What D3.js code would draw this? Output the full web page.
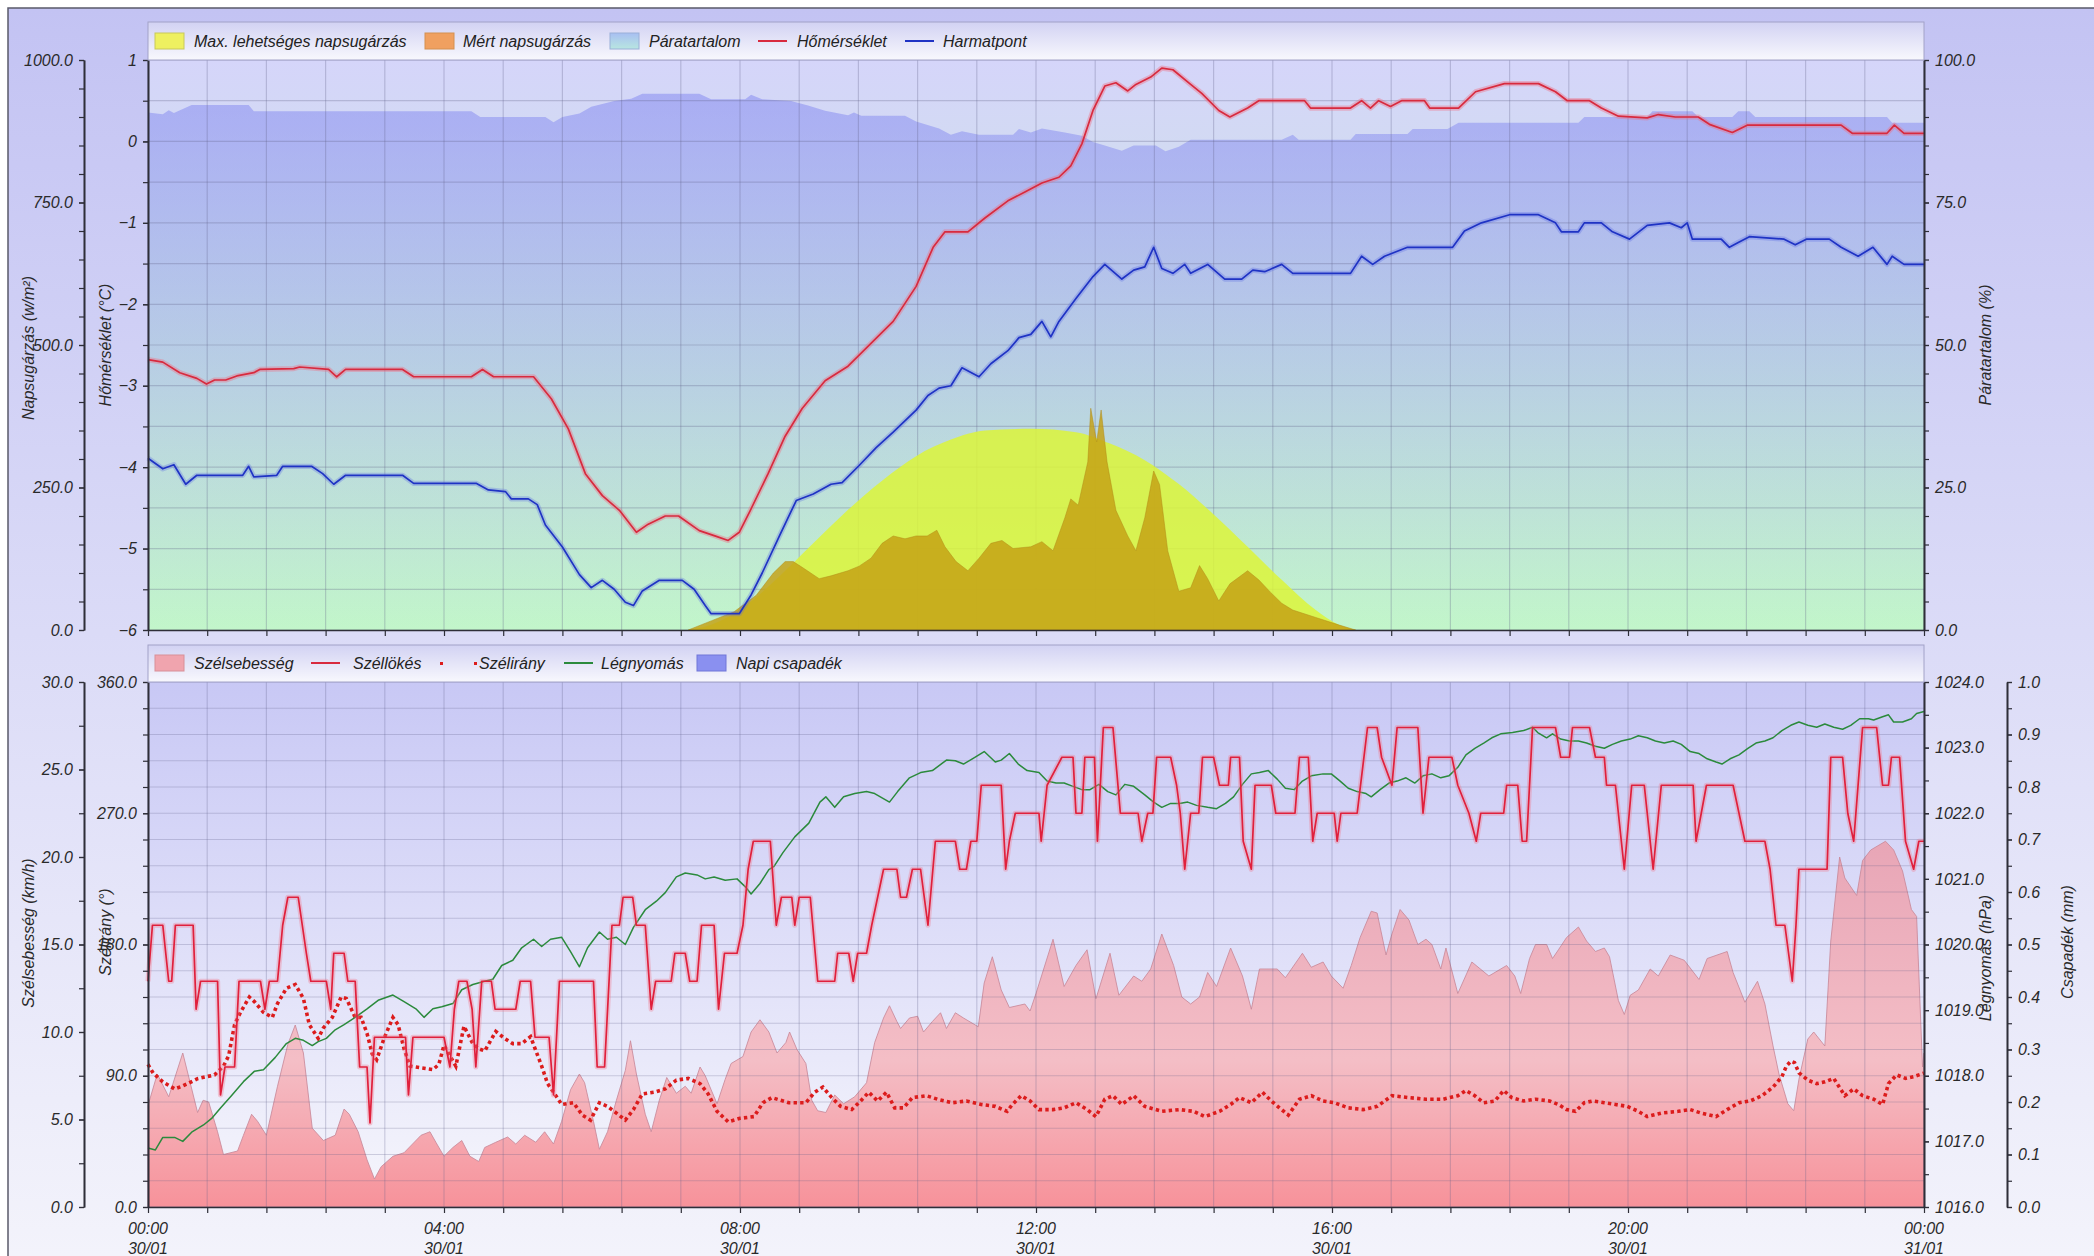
<!DOCTYPE html>
<html><head><meta charset="utf-8">
<script src="https://cdn.jsdelivr.net/npm/d3@7"></script>
<style>
html,body{margin:0;padding:0;background:#fff;overflow:hidden;}
svg{display:block;}
</style></head><body>
<svg id="c" width="2094" height="1256"></svg>
<script>
// ---------------- DATA (hour of day, value) ----------------
const xLabelHours = [0, 4, 8, 12, 16, 20, 24];
const xLabelTexts = [["00:00","30/01"],["04:00","30/01"],["08:00","30/01"],["12:00","30/01"],["16:00","30/01"],["20:00","30/01"],["00:00","31/01"]];

const topLegend = ["Max. lehetséges napsugárzás","Mért napsugárzás","Páratartalom","Hőmérséklet","Harmatpont"];
const bottomLegend = ["Szélsebesség","Széllökés","Szélirány","Légnyomás","Napi csapadék"];

// Hőmérséklet (°C)
const tempData = [[0,-2.68],[0.2,-2.71],[0.43,-2.84],[0.66,-2.91],[0.79,-2.98],[0.9,-2.93],[1.05,-2.93],[1.2,-2.88],[1.43,-2.84],[1.51,-2.80],[1.97,-2.79],[2.05,-2.77],[2.44,-2.80],[2.55,-2.89],[2.67,-2.80],[3.44,-2.80],[3.59,-2.89],[4.37,-2.89],[4.52,-2.80],[4.67,-2.89],[5.21,-2.89],[5.45,-3.16],[5.68,-3.53],[5.91,-4.08],[6.14,-4.35],[6.37,-4.53],[6.6,-4.80],[6.76,-4.70],[6.99,-4.60],[7.17,-4.60],[7.45,-4.78],[7.68,-4.85],[7.84,-4.90],[7.99,-4.80],[8.14,-4.53],[8.38,-4.08],[8.61,-3.62],[8.84,-3.28],[9.15,-2.94],[9.46,-2.76],[9.77,-2.48],[10.07,-2.21],[10.38,-1.78],[10.61,-1.30],[10.77,-1.11],[11.08,-1.11],[11.31,-0.94],[11.62,-0.73],[11.85,-0.62],[12.08,-0.51],[12.31,-0.44],[12.47,-0.30],[12.62,-0.03],[12.77,0.38],[12.93,0.68],[13.08,0.72],[13.24,0.62],[13.35,0.70],[13.55,0.79],[13.7,0.90],[13.85,0.88],[14.09,0.70],[14.24,0.59],[14.47,0.38],[14.62,0.30],[14.86,0.41],[15.01,0.50],[15.63,0.50],[15.71,0.41],[16.25,0.41],[16.4,0.50],[16.52,0.41],[16.63,0.50],[16.79,0.43],[16.94,0.50],[17.25,0.50],[17.32,0.41],[17.71,0.41],[17.94,0.61],[18.33,0.71],[18.79,0.71],[19.02,0.61],[19.18,0.50],[19.48,0.50],[19.64,0.41],[19.87,0.31],[20.26,0.29],[20.41,0.33],[20.64,0.30],[20.95,0.30],[21.1,0.21],[21.41,0.11],[21.61,0.20],[22.88,0.20],[23.03,0.10],[23.5,0.10],[23.6,0.20],[23.73,0.10],[24,0.10]];

// Harmatpont (°C)
const dewData = [[0,-3.89],[0.2,-4.02],[0.35,-3.97],[0.51,-4.21],[0.66,-4.10],[1.28,-4.10],[1.36,-3.99],[1.43,-4.12],[1.74,-4.10],[1.82,-3.99],[2.21,-3.99],[2.36,-4.08],[2.51,-4.21],[2.67,-4.10],[3.44,-4.10],[3.59,-4.20],[4.44,-4.20],[4.6,-4.28],[4.83,-4.30],[4.91,-4.39],[5.14,-4.39],[5.26,-4.46],[5.37,-4.71],[5.6,-4.98],[5.83,-5.32],[5.99,-5.48],[6.14,-5.39],[6.3,-5.50],[6.45,-5.66],[6.56,-5.70],[6.68,-5.52],[6.91,-5.39],[7.22,-5.39],[7.38,-5.50],[7.53,-5.70],[7.61,-5.80],[7.99,-5.80],[8.15,-5.57],[8.3,-5.30],[8.53,-4.85],[8.76,-4.41],[8.99,-4.33],[9.23,-4.21],[9.38,-4.19],[9.61,-3.98],[9.84,-3.76],[10.07,-3.57],[10.38,-3.30],[10.54,-3.12],[10.69,-3.03],[10.85,-3.0],[11.0,-2.78],[11.23,-2.89],[11.39,-2.73],[11.62,-2.57],[11.77,-2.41],[11.93,-2.37],[12.08,-2.21],[12.2,-2.40],[12.31,-2.21],[12.54,-1.93],[12.77,-1.66],[12.93,-1.51],[13.16,-1.69],[13.32,-1.58],[13.47,-1.54],[13.59,-1.30],[13.7,-1.56],[13.85,-1.62],[14.01,-1.51],[14.09,-1.62],[14.32,-1.51],[14.55,-1.69],[14.78,-1.69],[14.93,-1.58],[15.09,-1.60],[15.32,-1.51],[15.47,-1.62],[16.25,-1.62],[16.4,-1.41],[16.55,-1.51],[16.71,-1.41],[17.02,-1.30],[17.63,-1.30],[17.79,-1.10],[18.02,-1.00],[18.4,-0.90],[18.79,-0.90],[19.02,-1.00],[19.1,-1.11],[19.33,-1.11],[19.41,-1.00],[19.64,-1.00],[19.79,-1.11],[20.02,-1.20],[20.26,-1.03],[20.56,-1.00],[20.72,-1.06],[20.8,-1.00],[20.87,-1.20],[21.26,-1.20],[21.37,-1.30],[21.49,-1.24],[21.64,-1.17],[22.11,-1.20],[22.26,-1.27],[22.41,-1.20],[22.72,-1.20],[22.88,-1.30],[23.11,-1.41],[23.31,-1.30],[23.5,-1.51],[23.57,-1.41],[23.73,-1.51],[24,-1.51]];

// Páratartalom (%)
const humData = [[0,90.8],[0.2,90.5],[0.28,91.2],[0.35,90.7],[0.59,92.1],[1.36,92.1],[1.43,91.0],[4.37,91.0],[4.49,90.0],[5.37,90.0],[5.48,89.1],[5.6,90.0],[5.83,90.6],[5.99,91.8],[6.3,92.8],[6.53,93.2],[6.68,94.1],[7.45,94.1],[7.61,93.1],[8.07,93.1],[8.15,93.9],[8.3,93.1],[8.69,92.8],[8.92,92.0],[9.15,91.1],[9.46,90.3],[9.54,90.8],[9.64,90.2],[10.23,90.2],[10.38,89.2],[10.69,88.0],[10.85,86.9],[11.0,87.5],[11.23,86.9],[11.69,86.9],[11.77,87.9],[11.93,87.3],[12.08,88.0],[12.39,87.3],[12.62,86.7],[12.77,85.6],[12.93,85.0],[13.16,84.1],[13.32,85.0],[13.62,85.0],[13.75,84.0],[13.93,84.8],[14.09,86.0],[15.32,86.0],[15.47,86.9],[15.55,86.0],[16.25,86.0],[16.32,87.0],[17.02,87.0],[17.09,87.9],[17.56,87.9],[17.71,89.0],[19.33,89.0],[19.41,90.0],[20.26,90.0],[20.33,91.0],[20.87,91.0],[20.95,90.0],[21.41,90.0],[21.49,91.0],[21.64,91.0],[21.72,90.0],[23.5,90.0],[23.57,89.0],[24,89.0]];

// Max. lehetséges napsugárzás (W/m²)
const maxRadData = [[7.3,0],[7.61,9],[8.07,42],[8.53,94],[8.99,152],[9.46,211],[9.92,262],[10.38,305],[10.85,334],[11.31,350],[11.93,353],[12.54,347],[13.0,327],[13.47,298],[13.93,256],[14.39,204],[14.86,146],[15.32,88],[15.78,35],[16.09,9],[16.32,0]];

// Mért napsugárzás (W/m²)
const radData = [[7.3,0],[7.61,16],[7.92,32],[8.22,61],[8.45,100],[8.61,120],[8.72,120],[8.84,110],[9.07,90],[9.23,95],[9.46,104],[9.61,112],[9.77,126],[9.92,152],[10.07,165],[10.23,160],[10.38,165],[10.53,165],[10.66,175],[10.77,146],[10.92,120],[11.08,104],[11.23,126],[11.39,152],[11.54,157],[11.69,143],[11.93,146],[12.08,155],[12.23,139],[12.39,197],[12.47,230],[12.57,219],[12.70,295],[12.74,389],[12.82,330],[12.88,386],[12.96,295],[13.08,210],[13.24,165],[13.35,139],[13.47,197],[13.59,279],[13.67,255],[13.78,139],[13.93,68],[14.09,74],[14.21,113],[14.32,90],[14.47,51],[14.62,81],[14.86,104],[15.01,88],[15.17,66],[15.32,47],[15.47,35],[15.78,22],[16.09,9],[16.32,0]];

// Szélsebesség (km/h)
const windData = [[0,5.8],[0.125,7.6],[0.28,6.3],[0.47,8.8],[0.67,5.4],[0.745,6.1],[0.82,6.0],[0.94,4.3],[1.02,3.0],[1.21,3.2],[1.29,4.1],[1.40,5.3],[1.48,4.9],[1.60,4.1],[1.75,6.9],[1.89,9.3],[1.99,10.4],[2.10,8.8],[2.22,4.5],[2.37,3.8],[2.53,4.1],[2.65,5.6],[2.72,5.3],[2.84,4.3],[2.96,2.7],[3.06,1.6],[3.15,2.3],[3.31,2.9],[3.46,3.1],[3.69,4.1],[3.81,4.3],[3.89,3.7],[4.00,2.9],[4.12,3.4],[4.24,3.8],[4.35,2.9],[4.47,2.6],[4.55,3.4],[4.70,3.7],[4.86,4.0],[4.97,3.6],[5.09,4.1],[5.24,3.7],[5.36,4.3],[5.48,3.6],[5.59,4.9],[5.71,6.7],[5.83,7.6],[5.90,7.1],[6.02,4.9],[6.10,3.3],[6.21,4.3],[6.33,6.1],[6.45,7.8],[6.52,9.5],[6.60,7.6],[6.72,5.3],[6.80,4.3],[6.91,6.1],[7.01,7.4],[7.14,6.5],[7.26,6.9],[7.34,6.5],[7.46,8.0],[7.53,7.5],[7.61,6.7],[7.69,5.9],[7.80,7.3],[7.88,8.2],[8.04,8.6],[8.15,10.0],[8.27,10.7],[8.39,10.0],[8.50,8.8],[8.62,9.4],[8.67,10.0],[8.77,9.0],[8.89,8.2],[8.97,6.1],[9.05,5.5],[9.16,5.4],[9.28,6.4],[9.40,5.9],[9.55,6.3],[9.71,7.1],[9.82,9.4],[9.94,10.8],[10.02,11.5],[10.12,10.6],[10.17,10.2],[10.29,10.8],[10.40,10.9],[10.48,10.0],[10.60,10.6],[10.71,11.1],[10.79,10.2],[10.91,11.1],[11.02,10.8],[11.22,10.3],[11.30,12.8],[11.41,14.3],[11.53,12.4],[11.64,11.4],[11.85,11.6],[11.92,11.2],[12.00,12.2],[12.23,15.3],[12.38,12.6],[12.54,13.8],[12.69,14.7],[12.81,11.9],[13.00,14.5],[13.12,12.1],[13.32,13.2],[13.43,12.9],[13.55,13.6],[13.70,15.6],[13.86,13.8],[13.97,12.0],[14.09,11.6],[14.21,12.0],[14.32,13.4],[14.44,12.6],[14.63,14.8],[14.79,13.2],[14.91,11.3],[15.02,13.6],[15.26,13.6],[15.37,13.1],[15.60,14.5],[15.72,13.7],[15.88,14.0],[15.99,13.2],[16.15,12.5],[16.26,13.8],[16.38,15.4],[16.53,16.9],[16.61,16.8],[16.73,14.4],[16.81,15.6],[16.92,17.0],[17.04,16.4],[17.16,15.0],[17.27,15.3],[17.35,15.0],[17.47,13.6],[17.54,14.8],[17.70,12.2],[17.89,14.0],[18.12,13.2],[18.36,13.8],[18.47,13.2],[18.55,12.2],[18.67,14.2],[18.75,15.0],[18.90,15.0],[18.98,14.2],[19.06,14.7],[19.17,15.4],[19.33,16.0],[19.44,15.2],[19.56,14.6],[19.68,14.8],[19.75,14.3],[19.87,11.8],[19.95,11.0],[20.03,12.1],[20.14,12.4],[20.30,13.6],[20.41,13.2],[20.57,14.4],[20.76,14.1],[20.96,13.0],[21.07,14.2],[21.34,14.6],[21.42,13.4],[21.58,11.7],[21.75,12.9],[21.85,11.6],[21.96,9.2],[22.04,7.6],[22.16,5.9],[22.24,5.5],[22.31,7.3],[22.43,9.6],[22.51,10.0],[22.66,9.2],[22.74,15.2],[22.86,20.0],[22.93,18.8],[23.09,17.8],[23.17,19.8],[23.28,20.4],[23.48,20.9],[23.59,20.4],[23.71,19.2],[23.83,17.0],[23.90,16.6],[23.98,8.0],[24,8.8]];

// Széllökés (km/h)
const gustData = [[0,12.9],[0.06,16.1],[0.2,16.1],[0.28,12.9],[0.32,12.9],[0.37,16.1],[0.61,16.1],[0.65,11.3],[0.71,12.9],[0.94,12.9],[0.98,6.4],[1.04,8.0],[1.17,8.0],[1.23,12.9],[1.52,12.9],[1.58,11.3],[1.64,12.9],[1.75,12.9],[1.82,16.1],[1.89,17.7],[2.03,17.7],[2.14,14.5],[2.2,12.9],[2.41,12.9],[2.47,11.3],[2.51,14.5],[2.65,14.5],[2.7,12.9],[2.8,12.9],[2.86,8.0],[2.96,8.0],[3.0,4.8],[3.06,9.7],[3.48,9.7],[3.52,6.4],[3.58,9.7],[4.0,9.7],[4.08,8.0],[4.14,11.3],[4.2,12.9],[4.31,12.9],[4.38,11.3],[4.43,8.0],[4.51,12.9],[4.64,12.9],[4.69,11.3],[4.97,11.3],[5.03,12.9],[5.17,12.9],[5.23,9.7],[5.42,9.7],[5.48,6.4],[5.56,12.9],[6.02,12.9],[6.07,8.0],[6.17,8.0],[6.27,16.1],[6.37,16.1],[6.42,17.7],[6.55,17.7],[6.6,16.1],[6.72,16.1],[6.8,11.3],[6.86,12.9],[7.07,12.9],[7.12,14.5],[7.26,14.5],[7.32,12.9],[7.42,12.9],[7.48,16.1],[7.65,16.1],[7.71,11.3],[7.79,14.5],[7.96,14.5],[8.04,16.1],[8.11,19.3],[8.18,20.9],[8.41,20.9],[8.49,16.1],[8.56,17.7],[8.7,17.7],[8.74,16.1],[8.8,17.7],[8.95,17.7],[9.05,12.9],[9.28,12.9],[9.32,14.5],[9.47,14.5],[9.53,12.9],[9.59,14.5],[9.71,14.5],[9.78,16.1],[9.94,19.3],[10.12,19.3],[10.17,17.7],[10.25,17.7],[10.33,19.3],[10.44,19.3],[10.54,16.1],[10.64,20.9],[10.91,20.9],[10.97,19.3],[11.06,19.3],[11.12,20.9],[11.2,20.9],[11.26,24.1],[11.53,24.1],[11.59,19.3],[11.64,20.9],[11.72,22.5],[12.04,22.5],[12.07,20.9],[12.15,24.1],[12.35,25.7],[12.5,25.7],[12.54,22.5],[12.62,22.5],[12.66,25.7],[12.79,25.7],[12.83,20.9],[12.91,27.4],[13.04,27.4],[13.14,22.5],[13.38,22.5],[13.43,20.9],[13.51,22.5],[13.58,22.5],[13.63,25.7],[13.82,25.7],[13.9,24.1],[13.95,22.5],[14.01,19.3],[14.09,22.5],[14.2,22.5],[14.25,25.7],[14.4,25.7],[14.48,24.1],[14.6,24.1],[14.63,25.7],[14.75,25.7],[14.8,20.9],[14.91,19.3],[14.96,24.1],[15.18,24.1],[15.24,22.5],[15.5,22.5],[15.56,25.7],[15.68,25.7],[15.74,20.9],[15.8,22.5],[16.03,22.5],[16.07,20.9],[16.12,22.5],[16.34,22.5],[16.48,27.4],[16.61,27.4],[16.67,25.7],[16.81,24.1],[16.88,27.4],[17.16,27.4],[17.23,22.5],[17.27,24.1],[17.31,25.7],[17.62,25.7],[17.7,24.1],[17.85,22.5],[17.95,20.9],[18.01,22.5],[18.32,22.5],[18.36,24.1],[18.51,24.1],[18.57,20.9],[18.63,20.9],[18.71,27.4],[19.02,27.4],[19.09,25.7],[19.21,25.7],[19.25,27.4],[19.48,27.4],[19.56,25.7],[19.68,25.7],[19.71,24.1],[19.83,24.1],[19.95,19.3],[20.05,24.1],[20.22,24.1],[20.26,22.5],[20.34,19.3],[20.45,24.1],[20.88,24.1],[20.92,20.9],[20.99,22.5],[21.06,24.1],[21.42,24.1],[21.5,22.5],[21.58,20.9],[21.85,20.9],[21.92,19.3],[22.0,16.1],[22.12,16.1],[22.22,12.9],[22.27,16.1],[22.31,19.3],[22.69,19.3],[22.74,25.7],[22.9,25.7],[22.97,22.5],[23.05,20.9],[23.17,27.4],[23.36,27.4],[23.44,24.1],[23.52,24.1],[23.56,25.7],[23.67,25.7],[23.75,20.9],[23.86,19.3],[23.93,20.9],[24,20.9]];

// Szélirány (°)
const dirData = [[0,97.8],[0.07,91.8],[0.2,85.8],[0.36,81.0],[0.47,83.0],[0.67,88.0],[0.9,90.6],[1.02,96.6],[1.09,103.7],[1.17,125.0],[1.25,133.5],[1.37,144.0],[1.44,140.7],[1.56,133.5],[1.68,130.0],[1.75,139.5],[1.87,150.0],[1.99,152.6],[2.10,143.0],[2.18,125.0],[2.30,115.6],[2.37,122.8],[2.49,130.0],[2.61,144.0],[2.68,143.0],[2.80,130.0],[2.88,130.0],[2.96,119.0],[3.03,105.0],[3.09,101.0],[3.19,115.6],[3.31,130.0],[3.38,125.0],[3.46,108.5],[3.54,96.6],[3.69,95.4],[3.85,94.2],[3.93,97.8],[4.00,110.9],[4.08,103.7],[4.16,96.6],[4.27,124.0],[4.39,112.0],[4.47,108.5],[4.55,107.0],[4.70,120.4],[4.82,115.6],[4.93,112.0],[5.05,112.0],[5.17,116.8],[5.32,96.6],[5.40,84.6],[5.48,78.7],[5.59,70.3],[5.75,71.5],[5.87,63.0],[5.98,59.6],[6.10,71.5],[6.21,69.0],[6.33,64.4],[6.45,59.6],[6.56,66.8],[6.68,77.5],[6.84,78.7],[6.99,81.0],[7.14,87.0],[7.30,88.2],[7.46,84.6],[7.57,77.5],[7.69,65.6],[7.84,58.4],[8.00,60.8],[8.19,62.0],[8.31,71.5],[8.43,75.0],[8.66,71.5],[8.89,71.5],[9.01,78.7],[9.12,82.2],[9.24,75.0],[9.36,69.0],[9.51,66.8],[9.63,72.7],[9.74,78.7],[9.86,72.7],[9.98,78.7],[10.09,68.0],[10.21,68.0],[10.33,75.0],[10.52,76.3],[10.67,73.9],[10.87,71.5],[11.06,72.7],[11.26,70.3],[11.45,69.0],[11.61,65.6],[11.68,70.3],[11.80,76.3],[11.92,72.7],[12.04,66.8],[12.23,66.8],[12.38,68.0],[12.54,71.5],[12.69,66.8],[12.81,62.0],[12.93,73.9],[13.04,76.3],[13.16,70.3],[13.32,76.3],[13.47,69.0],[13.70,65.6],[13.94,66.8],[14.13,65.6],[14.28,62.0],[14.48,65.6],[14.63,70.3],[14.75,75.0],[14.91,71.5],[15.06,78.7],[15.18,72.7],[15.29,68.0],[15.41,63.0],[15.56,73.9],[15.72,76.3],[15.88,72.7],[16.03,71.5],[16.22,68.0],[16.42,66.8],[16.61,69.0],[16.81,76.3],[17.04,75.0],[17.27,73.9],[17.50,73.9],[17.70,76.3],[17.81,79.9],[17.93,76.3],[18.05,71.5],[18.20,72.7],[18.32,79.9],[18.43,75.0],[18.59,72.7],[18.75,73.9],[18.94,72.7],[19.06,70.3],[19.17,66.8],[19.29,65.6],[19.41,71.5],[19.52,72.7],[19.68,71.5],[19.83,70.3],[19.99,69.0],[20.14,65.6],[20.26,62.0],[20.45,64.4],[20.68,65.6],[20.84,66.8],[20.99,64.4],[21.19,62.0],[21.34,66.8],[21.50,71.5],[21.65,72.7],[21.81,76.3],[21.96,82.2],[22.08,89.4],[22.14,96.6],[22.20,100.0],[22.25,99.0],[22.31,92.0],[22.43,87.0],[22.55,84.6],[22.66,85.8],[22.78,88.2],[22.93,76.3],[23.05,81.0],[23.17,76.3],[23.32,73.9],[23.44,70.3],[23.52,84.6],[23.63,90.6],[23.75,88.2],[23.86,89.4],[24,91.8]];

// Légnyomás (hPa)
const pressData = [[0,1016.9],[0.1,1016.87],[0.2,1017.06],[0.36,1017.06],[0.47,1017.0],[0.59,1017.14],[0.75,1017.25],[0.86,1017.35],[0.98,1017.51],[1.13,1017.70],[1.29,1017.91],[1.44,1018.07],[1.56,1018.09],[1.72,1018.28],[1.87,1018.49],[1.99,1018.57],[2.10,1018.54],[2.22,1018.46],[2.30,1018.52],[2.41,1018.57],[2.53,1018.70],[2.65,1018.78],[2.80,1018.89],[2.96,1019.02],[3.11,1019.15],[3.31,1019.23],[3.46,1019.13],[3.62,1019.02],[3.73,1018.89],[3.85,1019.02],[3.97,1019.05],[4.12,1019.10],[4.24,1019.31],[4.39,1019.39],[4.55,1019.44],[4.66,1019.47],[4.78,1019.68],[4.93,1019.76],[5.05,1019.95],[5.21,1020.08],[5.32,1019.97],[5.44,1020.08],[5.59,1020.11],[5.71,1019.89],[5.83,1019.66],[5.94,1019.95],[6.10,1020.19],[6.21,1020.08],[6.33,1020.11],[6.45,1020.0],[6.56,1020.26],[6.72,1020.53],[6.87,1020.66],[6.99,1020.79],[7.14,1021.03],[7.26,1021.09],[7.42,1021.06],[7.53,1021.0],[7.65,1021.03],[7.80,1020.98],[7.96,1021.0],[8.08,1020.87],[8.15,1020.77],[8.27,1020.93],[8.39,1021.14],[8.46,1021.19],[8.58,1021.40],[8.74,1021.64],[8.93,1021.85],[9.08,1022.17],[9.16,1022.25],[9.28,1022.09],[9.40,1022.25],[9.55,1022.30],[9.71,1022.33],[9.82,1022.30],[10.02,1022.17],[10.13,1022.33],[10.29,1022.54],[10.44,1022.62],[10.60,1022.65],[10.79,1022.81],[10.91,1022.80],[11.02,1022.75],[11.14,1022.83],[11.30,1022.94],[11.45,1022.78],[11.53,1022.81],[11.64,1022.91],[11.76,1022.75],[11.88,1022.65],[12.04,1022.62],[12.15,1022.49],[12.27,1022.46],[12.38,1022.46],[12.50,1022.41],[12.62,1022.36],[12.73,1022.36],[12.85,1022.44],[12.97,1022.33],[13.08,1022.28],[13.20,1022.44],[13.32,1022.41],[13.47,1022.28],[13.59,1022.17],[13.70,1022.09],[13.82,1022.15],[13.94,1022.15],[14.05,1022.17],[14.17,1022.12],[14.32,1022.09],[14.44,1022.07],[14.56,1022.15],[14.67,1022.25],[14.79,1022.44],[14.91,1022.60],[15.02,1022.62],[15.14,1022.65],[15.26,1022.52],[15.37,1022.38],[15.49,1022.36],[15.60,1022.49],[15.72,1022.57],[15.88,1022.60],[15.99,1022.60],[16.11,1022.49],[16.22,1022.38],[16.34,1022.33],[16.46,1022.30],[16.53,1022.25],[16.65,1022.36],[16.77,1022.46],[16.88,1022.49],[17.00,1022.54],[17.12,1022.46],[17.23,1022.57],[17.35,1022.60],[17.47,1022.54],[17.58,1022.57],[17.70,1022.70],[17.81,1022.89],[17.93,1022.99],[18.05,1023.07],[18.16,1023.15],[18.28,1023.21],[18.44,1023.23],[18.59,1023.26],[18.71,1023.31],[18.78,1023.23],[18.90,1023.15],[18.98,1023.21],[19.09,1023.13],[19.21,1023.10],[19.33,1023.10],[19.44,1023.07],[19.56,1023.02],[19.68,1022.99],[19.79,1023.05],[19.91,1023.10],[20.03,1023.13],[20.14,1023.18],[20.26,1023.15],[20.37,1023.10],[20.49,1023.07],[20.61,1023.10],[20.72,1023.05],[20.84,1022.94],[20.96,1022.91],[21.07,1022.83],[21.19,1022.78],[21.27,1022.75],[21.38,1022.83],[21.50,1022.89],[21.62,1022.99],[21.73,1023.07],[21.85,1023.10],[21.96,1023.15],[22.08,1023.26],[22.20,1023.34],[22.31,1023.39],[22.43,1023.34],[22.55,1023.31],[22.66,1023.36],[22.78,1023.31],[22.90,1023.28],[23.01,1023.34],[23.13,1023.44],[23.25,1023.44],[23.32,1023.42],[23.44,1023.47],[23.52,1023.50],[23.59,1023.39],[23.71,1023.39],[23.83,1023.44],[23.90,1023.52],[24,1023.55]];

// Napi csapadék (mm) – none recorded
const rainData = [];

// tick values
const radTicks = [0,250,500,750,1000];
const tempTicks = [-6,-5,-4,-3,-2,-1,0,1];
const humTicks = [0,25,50,75,100];
const speedTicks = [0,5,10,15,20,25,30];
const dirTicks = [0,90,180,270,360];
const pressTicks = [1016,1017,1018,1019,1020,1021,1022,1023,1024];
const rainTicks = [0,0.1,0.2,0.3,0.4,0.5,0.6,0.7,0.8,0.9,1.0];

// ---------------- LAYOUT ----------------
const W = 2094, H = 1256;
const PL = 148, PR = 1924;
const TT = 60, TB = 630;
const BT = 682, BB = 1207;
const FONT = '"Liberation Sans", Arial, sans-serif';

const svg = d3.select('#c');
const defs = svg.append('defs');
function lg(id, x1,y1,x2,y2, stops){
  const g = defs.append('linearGradient').attr('id',id).attr('gradientUnits','userSpaceOnUse')
    .attr('x1',x1).attr('y1',y1).attr('x2',x2).attr('y2',y2);
  stops.forEach(s=>g.append('stop').attr('offset',s[0]).attr('stop-color',s[1]).attr('stop-opacity',s[2]===undefined?1:s[2]));
}
lg('pageBg',0,8,0,H,[[0,'#c3c3f3'],[1,'#f3f3fb']]);
lg('topBg',0,TT,0,TB,[[0,'#d5d5fa'],[1,'#c2f6ca']]);
lg('humFill',0,TT,0,TB,[[0,'#7d82f0',0.52],[1,'#7d82f0',0.0]]);
lg('botBg',0,BT,0,BB,[[0,'#c8c8f5'],[1,'#f6f6fc']]);
lg('windFill',0,BT,0,BB,[[0,'#e094aa'],[0.45,'#ecaebc'],[0.72,'#f4bec6'],[1,'#f7929a']]);
lg('legBg1',0,22,0,60,[[0,'#d2d2f3'],[1,'#f8f8fd']]);
lg('legBg2',0,645,0,682,[[0,'#d2d2f3'],[1,'#f8f8fd']]);
lg('humSw',0,0,0,1,[[0,'#a8bff2'],[1,'#b8e6e0']]);
defs.select('#humSw').attr('gradientUnits','objectBoundingBox');

// page background
svg.append('rect').attr('x',0).attr('y',0).attr('width',W).attr('height',H).attr('fill','#fff');
svg.append('rect').attr('x',8).attr('y',8).attr('width',W).attr('height',H).attr('fill','url(#pageBg)')
  .attr('stroke','#5a5a6a').attr('stroke-width',1.5);

// scales
const x = d3.scaleLinear().domain([0,24]).range([PL,PR]);
const yTemp = d3.scaleLinear().domain([-6,1]).range([TB,TT]);
const yRad = d3.scaleLinear().domain([0,1000]).range([TB,TT]);
const yHum = d3.scaleLinear().domain([0,100]).range([TB,TT]);
const ySpeed = d3.scaleLinear().domain([0,30]).range([BB,BT]);
const yDir = d3.scaleLinear().domain([0,360]).range([BB,BT]);
const yPress = d3.scaleLinear().domain([1016,1024]).range([BB,BT]);
const yRain = d3.scaleLinear().domain([0,1]).range([BB,BT]);

const gridHours = d3.range(0, 24.001, 0.8);

// ---------------- TOP PLOT ----------------
svg.append('rect').attr('x',PL).attr('y',TT).attr('width',PR-PL).attr('height',TB-TT).attr('fill','url(#topBg)');
const areaGen = (ys)=> d3.area().x(d=>x(d[0])).y0(ys.range()[0]).y1(d=>ys(d[1]));
const lineGen = (ys)=> d3.line().x(d=>x(d[0])).y(d=>ys(d[1]));

svg.append('path').datum(humData).attr('d',areaGen(yHum)).attr('fill','url(#humFill)');

// grid top
const gTop = svg.append('g');
gridHours.forEach(h=>gTop.append('line').attr('x1',x(h)).attr('x2',x(h)).attr('y1',TT).attr('y2',TB));
d3.range(-6,1.001,0.5).forEach(v=>gTop.append('line').attr('x1',PL).attr('x2',PR).attr('y1',yTemp(v)).attr('y2',yTemp(v)));
gTop.selectAll('line').attr('stroke','#5c5c86').attr('stroke-opacity',0.28).attr('stroke-width',1.2);

svg.append('path').datum(maxRadData).attr('d',areaGen(yRad).curve(d3.curveMonotoneX)).attr('fill','#dcf53a').attr('fill-opacity',0.85);
svg.append('path').datum(radData).attr('d',areaGen(yRad)).attr('fill','#c4a014').attr('fill-opacity',0.82)
  .attr('stroke','#b08a18').attr('stroke-width',0.8).attr('stroke-opacity',0.6);

// lines
function drawLine(data, ys, color, halo, w){
  if (halo) svg.append('path').datum(data).attr('d',lineGen(ys)).attr('fill','none').attr('stroke',halo).attr('stroke-width',w+3.5).attr('stroke-linejoin','round');
  svg.append('path').datum(data).attr('d',lineGen(ys)).attr('fill','none').attr('stroke',color).attr('stroke-width',w).attr('stroke-linejoin','round');
}
drawLine(dewData, yTemp, '#1f33c4', 'rgba(90,105,230,0.30)', 1.7);
drawLine(tempData, yTemp, '#d82a3e', 'rgba(240,110,130,0.40)', 1.7);

// ---------------- BOTTOM PLOT ----------------
svg.append('rect').attr('x',PL).attr('y',BT).attr('width',PR-PL).attr('height',BB-BT).attr('fill','url(#botBg)');
svg.append('path').datum(windData).attr('d',areaGen(ySpeed)).attr('fill','url(#windFill)')
  .attr('stroke','#c98a9a').attr('stroke-width',1).attr('stroke-opacity',0.85);

const gBot = svg.append('g');
gridHours.forEach(h=>gBot.append('line').attr('x1',x(h)).attr('x2',x(h)).attr('y1',BT).attr('y2',BB));
d3.range(0,360.001,18).forEach(v=>gBot.append('line').attr('x1',PL).attr('x2',PR).attr('y1',yDir(v)).attr('y2',yDir(v)));
gBot.selectAll('line').attr('stroke','#5c5c86').attr('stroke-opacity',0.26).attr('stroke-width',1.2);

// wind direction (dotted)
svg.append('path').datum(dirData).attr('d',lineGen(yDir)).attr('fill','none').attr('stroke','#dc1c1c')
  .attr('stroke-width',3.6).attr('stroke-dasharray','3.4,3.2');
drawLine(pressData, yPress, '#2b8a3c', null, 1.5);
drawLine(gustData, yGust=ySpeed, '#e0203c', 'rgba(240,120,140,0.35)', 1.7);

// ---------------- AXES ----------------
function styleAxis(g){
  g.attr('font-family',FONT).attr('font-size',16).attr('font-style','italic');
  g.selectAll('path.domain').attr('stroke','#2e2e38').attr('stroke-width',1.6);
  g.selectAll('.tick line').attr('stroke','#2e2e38').attr('stroke-width',1.2);
  g.selectAll('text').attr('fill','#2a2a2a');
}
function vAxis(orient, scale, xpos, major, minorStep, fmt){
  const mk = orient==='left'? d3.axisLeft : d3.axisRight;
  const d = scale.domain();
  const minor = d3.range(d[0], d[1]+minorStep/2, minorStep);
  const g1 = svg.append('g').attr('transform',`translate(${xpos},0)`)
    .call(mk(scale).tickValues(minor).tickFormat('').tickSize(5).tickSizeOuter(0));
  const g2 = svg.append('g').attr('transform',`translate(${xpos},0)`)
    .call(mk(scale).tickValues(major).tickFormat(fmt).tickSize(5).tickPadding(6).tickSizeOuter(0));
  styleAxis(g1); styleAxis(g2);
}
const f1 = d3.format('.1f');
vAxis('left', yRad, 84, radTicks, 50, f1);
vAxis('left', yTemp, PL, tempTicks, 0.5, d=>d3.format('d')(d).replace('-','-'));
vAxis('right', yHum, PR, humTicks, 5, f1);
vAxis('left', ySpeed, 84, speedTicks, 2.5, f1);
vAxis('left', yDir, PL, dirTicks, 18, f1);
vAxis('right', yPress, PR, pressTicks, 0.5, f1);
vAxis('right', yRain, 2007, rainTicks, 0.05, f1);

// x axes
function xAxis(ypos, labels){
  const g = svg.append('g').attr('transform',`translate(0,${ypos})`)
    .call(d3.axisBottom(x).tickValues(gridHours).tickFormat('').tickSize(6).tickSizeOuter(0));
  styleAxis(g);
  if (labels){
    const lab = svg.append('g').attr('font-family',FONT).attr('font-size',16).attr('font-style','italic').attr('fill','#2a2a2a');
    xLabelHours.forEach((h,i)=>{
      const t = lab.append('text').attr('x',x(h)).attr('text-anchor','middle');
      t.append('tspan').attr('x',x(h)).attr('y',ypos+27).text(xLabelTexts[i][0]);
      t.append('tspan').attr('x',x(h)).attr('y',ypos+47).text(xLabelTexts[i][1]);
    });
  }
}
xAxis(TB, false);
xAxis(BB, true);

// axis titles
function vTitle(txt, cx, cy){
  svg.append('text').attr('transform',`translate(${cx},${cy}) rotate(-90)`).attr('text-anchor','middle')
    .attr('dominant-baseline','middle').attr('font-family',FONT).attr('font-size',16).attr('font-style','italic')
    .attr('fill','#2a2a2a').text(txt);
}
vTitle('Napsugárzás (w/m²)', 30, 348);
vTitle('Hőmérséklet (°C)', 107, 345);
vTitle('Páratartalom (%)', 1987, 345);
vTitle('Szélsebesség (km/h)', 30, 933);
vTitle('Szélirány (°)', 107, 932);
vTitle('Légnyomás (hPa)', 1987, 958);
vTitle('Csapadék (mm)', 2069, 942);

// ---------------- LEGENDS ----------------
function legendBox(y0,y1,grad){
  svg.append('rect').attr('x',PL).attr('y',y0).attr('width',PR-PL).attr('height',y1-y0)
    .attr('fill',`url(#${grad})`).attr('stroke','#a2a2c8').attr('stroke-width',1);
}
legendBox(22,60,'legBg1');
legendBox(645,682,'legBg2');
const leg = svg.append('g').attr('font-family',FONT).attr('font-size',16).attr('font-style','italic').attr('fill','#222');
function swatch(x0,cy,fill,stroke){ svg.append('rect').attr('x',x0).attr('y',cy-8).attr('width',29).attr('height',16).attr('fill',fill).attr('stroke',stroke).attr('stroke-width',1); }
function lsw(x0,cy,color){ svg.append('line').attr('x1',x0).attr('x2',x0+29).attr('y1',cy).attr('y2',cy).attr('stroke',color).attr('stroke-width',2); }
function ltext(x0,cy,t){ leg.append('text').attr('x',x0).attr('y',cy+6).text(t); }
let cy = 41;
swatch(155,cy,'#eef060','#c8c85a'); ltext(194,cy,topLegend[0]);
swatch(425,cy,'#f0a060','#d49050'); ltext(463,cy,topLegend[1]);
swatch(610,cy,'url(#humSw)','#9ab0d8'); ltext(649,cy,topLegend[2]);
lsw(758,cy,'#d82a3e'); ltext(797,cy,topLegend[3]);
lsw(905,cy,'#1f33c4'); ltext(943,cy,topLegend[4]);
cy = 663;
swatch(155,cy,'#f0a4ae','#d89098'); ltext(194,cy,bottomLegend[0]);
lsw(311,cy,'#d82a3e'); ltext(353,cy,bottomLegend[1]);
svg.append('rect').attr('x',440).attr('y',cy-1).attr('width',3).attr('height',3).attr('fill','#dc1c1c');
svg.append('rect').attr('x',474).attr('y',cy-1).attr('width',3).attr('height',3).attr('fill','#dc1c1c');
ltext(479,cy,bottomLegend[2]);
lsw(564,cy,'#2b8a3c'); ltext(601,cy,bottomLegend[3]);
swatch(697,cy,'#8a90f0','#7076d8'); ltext(736,cy,bottomLegend[4]);
</script>
</body></html>
